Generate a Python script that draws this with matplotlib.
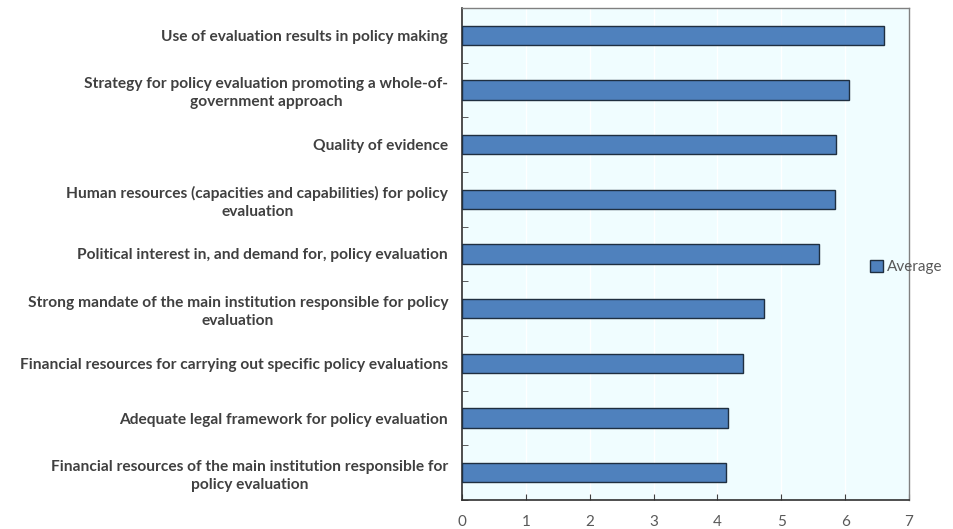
import numpy as np
import matplotlib.pyplot as plt
from matplotlib.ticker import FixedLocator

# 数据（从上到下）
labels = [
    "Use of evaluation results in policy making",
    "Strategy for policy evaluation promoting a whole-of-\ngovernment approach",
    "Quality of evidence",
    "Human resources (capacities and capabilities) for policy\nevaluation",
    "Political interest in, and demand for, policy evaluation",
    "Strong mandate of the main institution responsible for policy\nevaluation",
    "Financial resources for carrying out specific policy evaluations",
    "Adequate legal framework for policy evaluation",
    "Financial resources of the main institution responsible for\npolicy evaluation",
]
average = [6.61, 6.06, 5.86, 5.84, 5.59, 4.73, 4.40, 4.17, 4.14]
xticks = [0, 1, 2, 3, 4, 5, 6, 7]

plt.rcParams['font.family'] = ['Lato', 'DejaVu Sans']

fig = plt.figure(figsize=(9.54, 5.29), dpi=100)
ax = fig.add_axes([0.4843, 0.0548, 0.4685, 0.9301])
ax.set_facecolor('#F0FDFF')

y = np.arange(len(labels))
bars = ax.barh(y, average, height=0.35, color='#4F81BD', edgecolor='#1F2F40',
               linewidth=1.0, label='Average', zorder=3)

ax.set_ylim(len(labels) - 0.5, -0.5)
ax.set_xlim(0, 7)
ax.set_xticks(xticks)
ax.set_yticks(y)
ax.set_yticklabels(labels, multialignment='center', fontweight='bold',
                   fontsize=11.2, color='#404040', linespacing=1.35)
ax.yaxis.set_minor_locator(FixedLocator(np.arange(-0.5, len(labels), 1.0)))
ax.tick_params(axis='y', which='major', length=0, pad=10)
ax.tick_params(axis='y', which='minor', length=4, direction='in', color='#404040')
ax.tick_params(axis='x', which='major', length=4, direction='in', color='#404040',
               labelcolor='#595959', labelsize=11, pad=11)

ax.grid(axis='x', color='white', linewidth=1.0, zorder=0)

for side in ['left', 'bottom']:
    ax.spines[side].set_color('#303030')
    ax.spines[side].set_linewidth(1.2)
for side in ['top', 'right']:
    ax.spines[side].set_color('#808080')
    ax.spines[side].set_linewidth(1.0)

leg = fig.legend(handles=[bars], labels=['Average'], loc='center left',
                 bbox_to_anchor=(0.906, 1 - 267 / 529), frameon=False,
                 fontsize=11, handlelength=0.8, handleheight=0.8,
                 handletextpad=0.3, borderaxespad=0)
for t in leg.get_texts():
    t.set_color('#595959')

fig.savefig('out.png', dpi=100)
